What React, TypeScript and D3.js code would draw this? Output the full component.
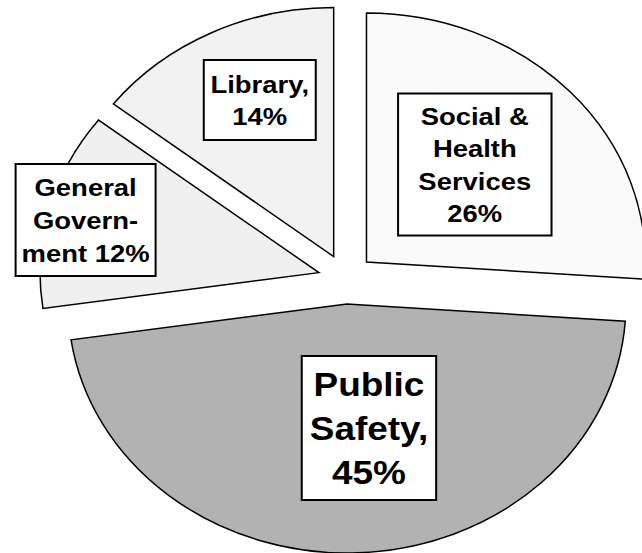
import React from "react";
import * as d3 from "d3";

// Data (shares; labels as printed)
const categories = ["Social & Health Services", "Public Safety", "General Government", "Library"];
const shares = [26.1, 46.6, 12.8, 14.5];
const labelLines = [
  ["Social &", "Health", "Services", "26%"],
  ["Public", "Safety,", "45%"],
  ["General", "Govern-", "ment 12%"],
  ["Library,", "14%"],
];
const fills = ["#fafafa", "#b2b2b2", "#f0f0f0", "#f2f2f2"];

// Layout
const W = 642;
const H = 553;
const CX = 346;
const CY = 279;
const RY = 249;
const STRETCH = 1.12;
const EXPLODE = 25;
const labelOffsets = [
  [115, -114.5],
  [20.5, 149],
  [-232.5, -59],
  [-77, -179],
];
const boxSizes = [
  [137, 142],
  [120, 144],
  [125, 112],
  [100, 80],
];
const fontSizes = [24.5, 33, 24.5, 24.5];
const lineHeights = [32.5, 44, 33, 32];

export default function App() {
  const pie = d3
    .pie<number>()
    .sort(null)
    .value((d) => d);
  const arcs = pie(shares);
  const arcGen = d3.arc<d3.PieArcDatum<number>>().innerRadius(0).outerRadius(RY);

  return (
    <div style={{ position: "absolute", left: 0, top: 0, background: "#fff" }}>
      <svg width={W} height={H} style={{ display: "block" }}>
        <rect x={0} y={0} width={W} height={H} fill="#fff" />
        <g transform={`translate(${CX},${CY}) scale(${STRETCH},1)`}>
          {arcs.map((a, i) => {
            const mid = (a.startAngle + a.endAngle) / 2;
            const dx = EXPLODE * Math.sin(mid);
            const dy = -EXPLODE * Math.cos(mid);
            return (
              <path
                key={categories[i]}
                d={arcGen(a) || ""}
                transform={`translate(${dx},${dy})`}
                fill={fills[i]}
                stroke="#000"
                strokeWidth={1.5}
                strokeLinejoin="miter"
                vectorEffect="non-scaling-stroke"
              />
            );
          })}
          {arcs.map((a, i) => {
            const [lx, ly] = labelOffsets[i];
            const [bw, bh] = boxSizes[i];
            const fs = fontSizes[i];
            const lh = lineHeights[i];
            const lines = labelLines[i];
            const n = lines.length;
            return (
              <g key={"lab" + i}>
                <rect
                  x={lx - bw / 2}
                  y={ly - bh / 2}
                  width={bw}
                  height={bh}
                  fill="#fff"
                  stroke="#000"
                  strokeWidth={2}
                  vectorEffect="non-scaling-stroke"
                />
                {lines.map((t, j) => (
                  <text
                    key={j}
                    x={lx}
                    y={ly + (j - (n - 1) / 2) * lh + fs * 0.36}
                    textAnchor="middle"
                    fontFamily="'Liberation Sans', Arial, sans-serif"
                    fontWeight="bold"
                    fontSize={fs}
                    fill="#000"
                  >
                    {t}
                  </text>
                ))}
              </g>
            );
          })}
        </g>
      </svg>
    </div>
  );
}
